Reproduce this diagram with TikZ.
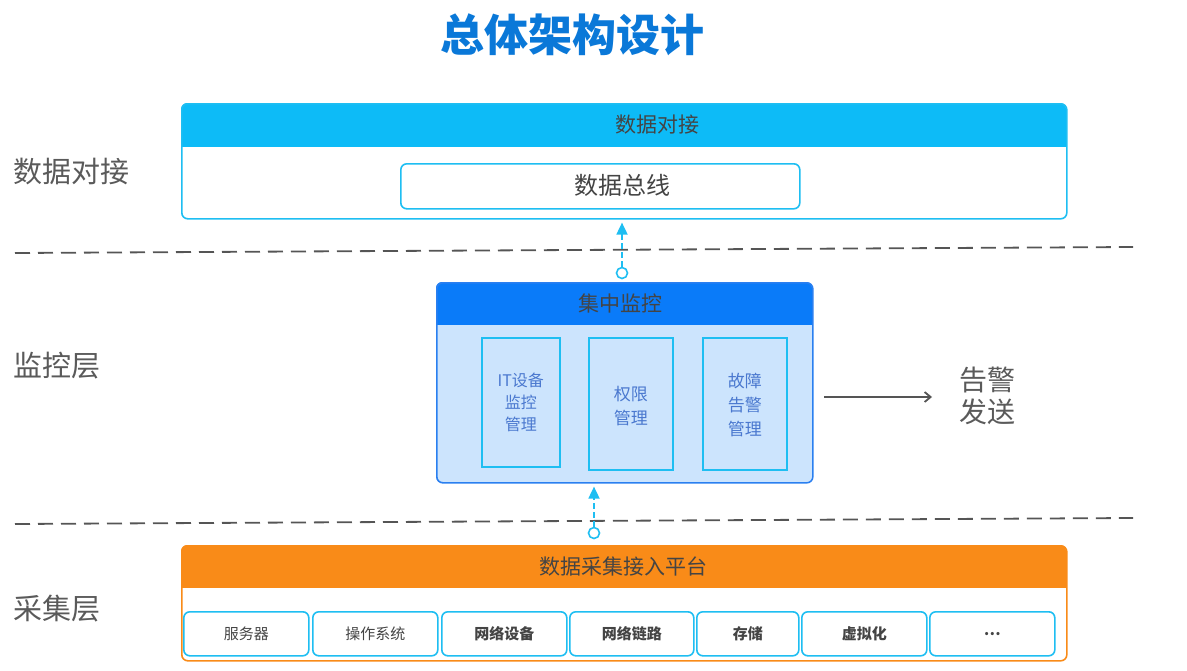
\documentclass[tikz,border=0pt]{standalone}
\usepackage{fontspec}
\newfontfamily\cjk{Noto Sans CJK SC}
\usetikzlibrary{arrows.meta,positioning}
\definecolor{titleblue}{HTML}{0A78D8}
\definecolor{cyanH}{HTML}{0DBBF7}
\definecolor{cyanB}{HTML}{1EBEF2}
\definecolor{blueH}{HTML}{0A7BF9}
\definecolor{blueB}{HTML}{2A7FF0}
\definecolor{lightblue}{HTML}{CCE4FD}
\definecolor{orangeH}{HTML}{F98B18}
\definecolor{textgray}{HTML}{444444}
\definecolor{labelgray}{HTML}{5A5A5A}
\definecolor{innerblue}{HTML}{4A78CF}
\definecolor{linegray}{HTML}{555555}
\begin{document}
\begin{tikzpicture}[x=1pt,y=-1pt,
  every node/.style={font=\cjk, text=textgray},
  layerlabel/.style={anchor=west, font=\cjk\fontsize{29}{32}\selectfont, text=labelgray},
  headtext/.style={font=\cjk\fontsize{21}{24}\selectfont, text=textgray},
  innerbox/.style={draw=cyanB, line width=1.6pt, inner sep=0pt, anchor=north west},
  item/.style={draw=cyanB, line width=1.6pt, rounded corners=6pt, fill=white, inner sep=0pt, minimum height=44pt, anchor=north west, font=\cjk\fontsize{15}{18}\selectfont},
  bolditem/.style={item, font=\cjk\bfseries\fontsize{15}{18}\selectfont},
  divider/.style={draw=linegray, line width=1.8pt, dash pattern=on 15pt off 8pt},
  flow/.style={draw=cyanB, line width=1.8pt, dash pattern=on 6pt off 3pt, -{Triangle[length=12pt,width=11pt]}, shorten >=3pt},
  port/.style={circle, draw=cyanB, line width=1.6pt, fill=white, minimum size=11pt, inner sep=0pt}
]
\useasboundingbox (0,0) rectangle (1187,670);

% title
\node[font=\cjk\bfseries\fontsize{44}{50}\selectfont, text=titleblue] (title) at (572,35) {总体架构设计};

% layer labels
\node[layerlabel] (l1) at (10,172) {数据对接};
\node[layerlabel] (l2) at (10,366) {监控层};
\node[layerlabel] (l3) at (10,609) {采集层};

% dividers
\coordinate (d1a) at (15,253); \coordinate (d1b) at (1133,247);
\coordinate (d2a) at (15,524); \coordinate (d2b) at (1133,518);
\path[divider] (d1a) -- (d1b);
\path[divider] (d2a) -- (d2b);

% ---------- top box ----------
\begin{scope}
\clip[rounded corners=6pt] (181,103) rectangle (1066,218);
\fill[white] (181,103) rectangle (1066,218);
\fill[cyanH] (181,103) rectangle (1066,147);
\end{scope}
\node[draw=cyanB, line width=1.6pt, rounded corners=6pt, minimum width=885pt, minimum height=115pt, inner sep=0pt, anchor=north west] (top) at (181,103) {};
\node[headtext] (toph) at (657,125) {数据对接};
\node[draw=cyanB, line width=1.6pt, rounded corners=6pt, minimum width=399pt, minimum height=45pt, inner sep=0pt, anchor=north west] (bus) at (400,163) {};
\node[font=\cjk\fontsize{24}{26}\selectfont] (bust) at (622,185) {数据总线};

% ---------- middle box ----------
\begin{scope}
\clip[rounded corners=6pt] (436,282) rectangle (812,482);
\fill[lightblue] (436,282) rectangle (812,482);
\fill[blueH] (436,282) rectangle (812,325);
\end{scope}
\node[draw=blueB, line width=1.6pt, rounded corners=6pt, minimum width=376pt, minimum height=200pt, inner sep=0pt, anchor=north west] (mid) at (436,282) {};
\node[headtext] (midh) at (620,303) {集中监控};
\node[innerbox, minimum width=78pt, minimum height=129pt] (m1) at (481,337) {};
\node[innerbox, minimum width=84pt, minimum height=132pt] (m2) at (588,337) {};
\node[innerbox, minimum width=84pt, minimum height=132pt] (m3) at (702,337) {};
\node[align=center, text=innerblue, font=\cjk\fontsize{16}{22}\selectfont] (m1t) at (m1.center) {IT设备\\监控\\管理};
\node[align=center, text=innerblue, font=\cjk\fontsize{17}{24}\selectfont] (m2t) at ([yshift=-2pt]m2.center) {权限\\管理};
\node[align=center, text=innerblue, font=\cjk\fontsize{17}{24}\selectfont] (m3t) at ([yshift=-1pt]m3.center) {故障\\告警\\管理};

% alarm
\node[align=left, font=\cjk\fontsize{28}{32}\selectfont, text=labelgray, anchor=west] (alarm) at (956,396) {告警\\发送};
\coordinate (ar0) at (824,397);
\draw[draw=linegray, line width=1.8pt, -{Straight Barb[length=6pt,width=10pt]}] (ar0) -- (932,397);

% ---------- bottom box ----------
\begin{scope}
\clip[rounded corners=6pt] (181,545) rectangle (1066,660);
\fill[white] (181,545) rectangle (1066,660);
\fill[orangeH] (181,545) rectangle (1066,588);
\end{scope}
\node[draw=orangeH, line width=1.6pt, rounded corners=6pt, minimum width=885pt, minimum height=115pt, inner sep=0pt, anchor=north west] (bot) at (181,545) {};
\node[headtext] (both) at (623.5,567) {数据采集接入平台};

\node[item, minimum width=125pt] (i1) at (183,611) {服务器};
\node[item, minimum width=125pt] (i2) at (312,611) {操作系统};
\node[bolditem, minimum width=125pt] (i3) at (441,611) {网络设备};
\node[bolditem, minimum width=124pt] (i4) at (569,611) {网络链路};
\node[bolditem, minimum width=102pt] (i5) at (696,611) {存储};
\node[bolditem, minimum width=125pt] (i6) at (801,611) {虚拟化};
\node[bolditem, minimum width=125pt] (i7) at (929,611) {…};

% ---------- flows ----------
\node[port] (p1) at (622,273) {};
\draw[flow] (p1) -- (p1 |- top.south);
\node[port] (p2) at (594,533) {};
\draw[flow] (p2) -- (p2 |- mid.south);
\end{tikzpicture}
\end{document}
